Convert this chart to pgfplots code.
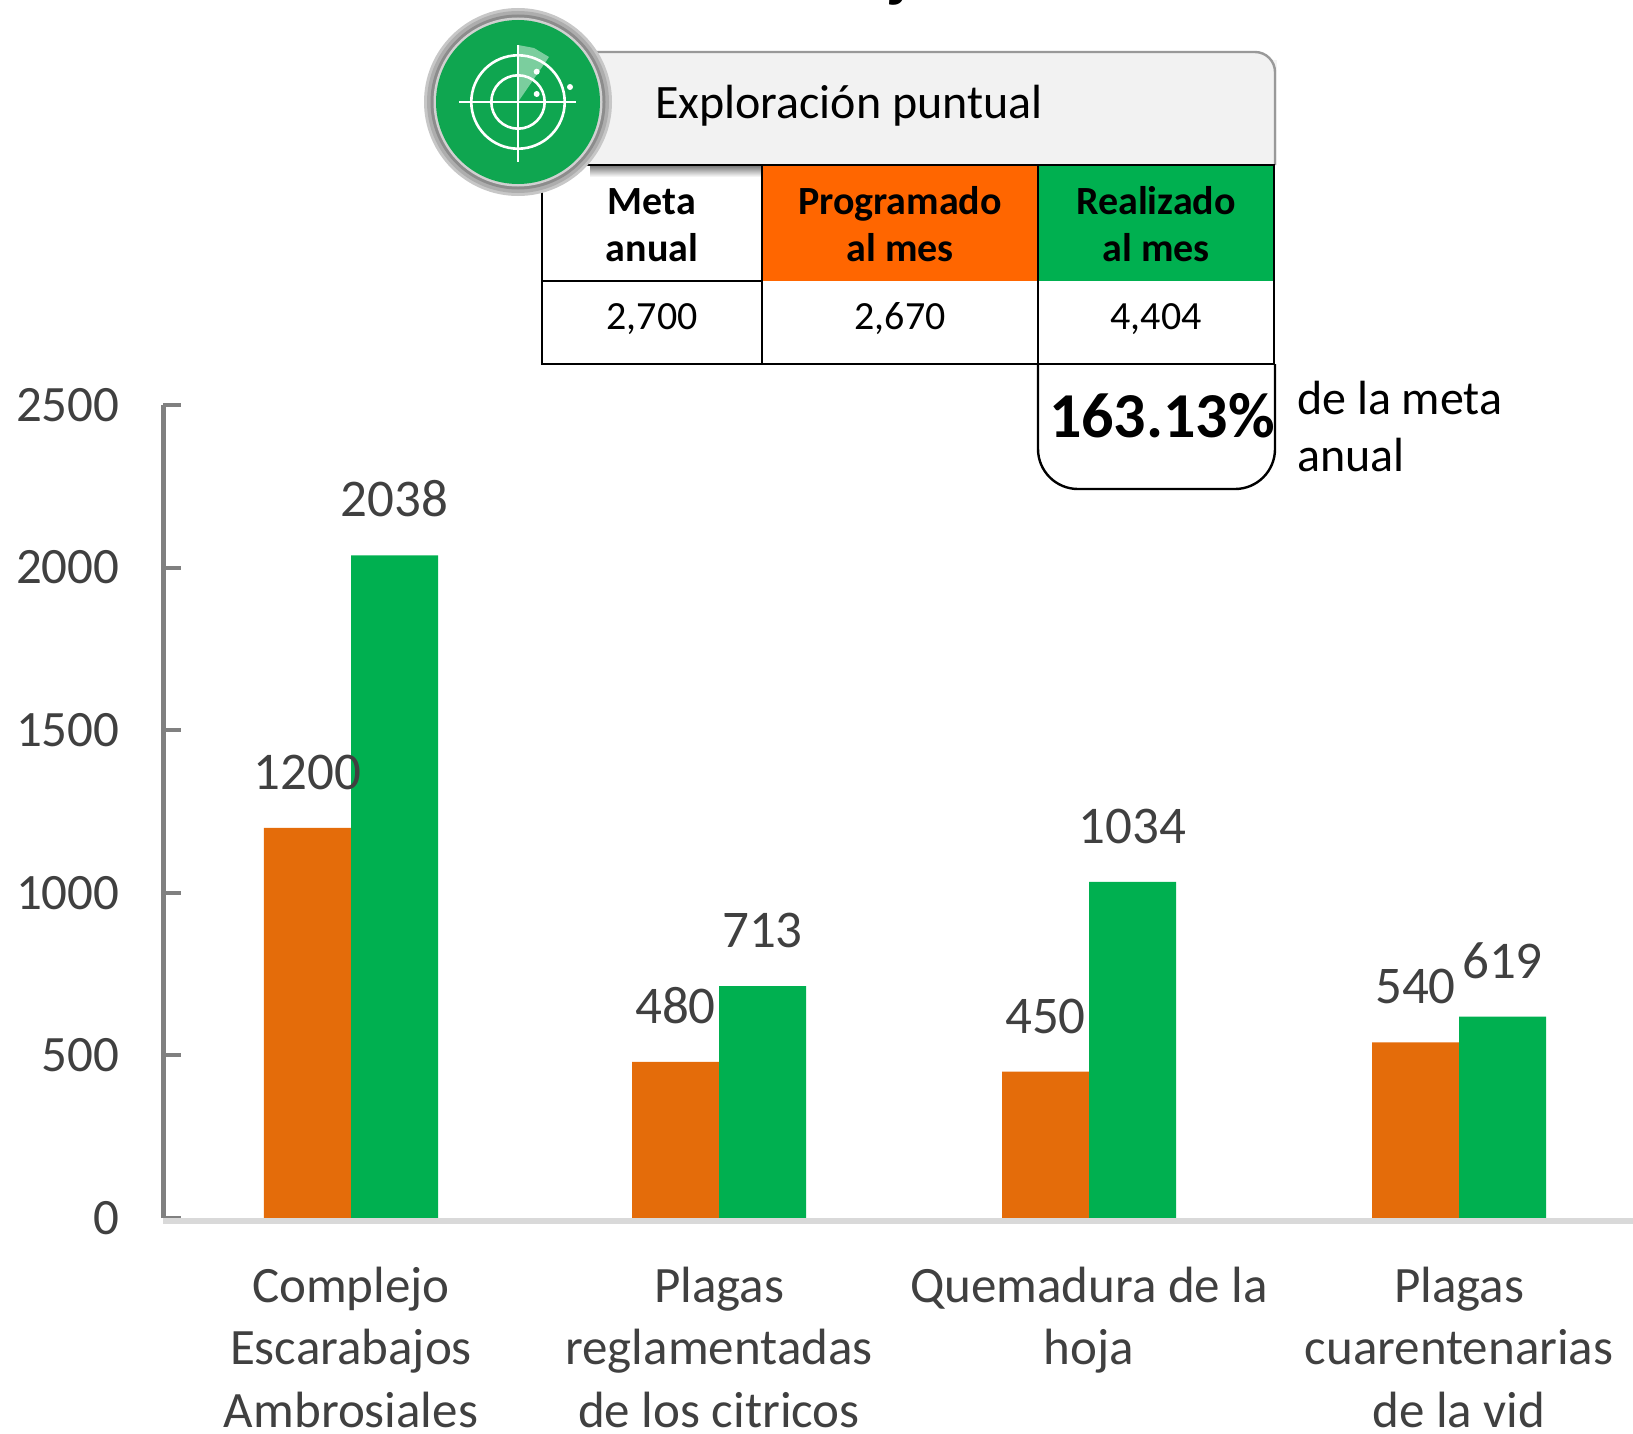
\documentclass[border=0pt]{standalone}
\usepackage{fontspec}
\usepackage{pgfplots}
\pgfplotsset{compat=1.18}
\setmainfont{Carlito}
\definecolor{barO}{HTML}{E46C0A}
\definecolor{barG}{HTML}{00B050}
\definecolor{headO}{HTML}{FF6600}
\definecolor{iconG}{HTML}{0FA650}
\definecolor{txt}{HTML}{404040}
\newcommand{\fs}[1]{\fontsize{#1}{#1}\selectfont}
\begin{document}
\begin{tikzpicture}[x=0.5pt,y=-0.5pt]
\useasboundingbox (0,0) rectangle (1633,1434);
\coordinate (A) at (163.5,1218);
\begin{axis}[
  at={(A)}, anchor=south west,
  scale only axis, width=734.75pt, height=406.5pt,
  xmin=163.5, xmax=1633, ymin=0, ymax=2500,
  axis y line*=left, axis x line*=bottom,
  x axis line style={draw=none},
  y axis line style={draw=black!50!white,line width=2.5pt},
  xtick={351,719,1089,1459},
  xticklabels={Complejo\\Escarabajos\\Ambrosiales,Plagas\\reglamentadas\\de los citricos,Quemadura de la\\hoja,Plagas\\cuarentenarias\\de la vid},
  xticklabel style={align=center,anchor=north,text=txt,font=\fontsize{25.5}{31.2}\selectfont,yshift=-12pt},
  x tick style={draw=none},
  ytick={0,500,...,2500},
  y tick style={draw=black!50!white,line width=2pt},
  tick align=inside,
  major tick length=9pt,
  yticklabel style={text=txt,font=\fs{25.5},xshift=-18.5pt},
  /pgf/number format/assume math mode=true,
  /pgf/number format/1000 sep={},
  ybar, bar width=43.5pt,
  nodes near coords,
  every node near coord/.append style={text=txt,font=\fs{26.5},yshift=15.5pt},
  clip=false,
]
\addplot[bar shift=-21.75pt,draw=none,fill=barO] coordinates {(351,1200) (719,480) (1089,450) (1459,540)};
\addplot[bar shift=21.75pt,draw=none,fill=barG] coordinates {(351,2038) (719,713) (1089,1034) (1459,619)};
\draw[black!15!white,line width=3pt] ([yshift=-1.5pt]axis cs:163.5,0) -- ([yshift=-1.5pt]axis cs:1633,0);
\end{axis}
% cropped title
\node[anchor=base,font=\bfseries\fs{32}] at (900,-5) {j};
% panel
\shade[top color=black!55,bottom color=white] (590,165) rectangle (762,177);
\fill[black!95!white,opacity=.05] (1273,60) rectangle (1277,165);
\draw[black!40,line width=1.2pt,fill=black!5,rounded corners=10pt] (520,165) -- (520,52) -- (1275,52) -- (1275,165);
\node[anchor=base west,font=\fs{24}] at (648,119) {Exploración puntual};
% table
\fill[headO] (762,165) rectangle (1038,281);
\fill[barG] (1038,165) rectangle (1274,281);
\draw[line width=1.4pt] (542,165) -- (1274,165) -- (1274,364) -- (542,364) -- cycle;
\draw[line width=1.2pt] (542,281) -- (762,281);
\draw[line width=1.2pt] (762,165) -- (762,364);
\draw[line width=1.2pt] (1038,165) -- (1038,364);
\node[anchor=base,font=\bfseries\fs{20}] at (652,214) {Meta};
\node[anchor=base,font=\bfseries\fs{20}] at (652,261) {anual};
\node[anchor=base,font=\bfseries\fs{20}] at (900,214) {Programado};
\node[anchor=base,font=\bfseries\fs{20}] at (900,261) {al mes};
\node[anchor=base,font=\bfseries\fs{20}] at (1156,214) {Realizado};
\node[anchor=base,font=\bfseries\fs{20}] at (1156,261) {al mes};
\node[anchor=base,font=\fs{20}] at (652,329) {2,700};
\node[anchor=base,font=\fs{20}] at (900,329) {2,670};
\node[anchor=base,font=\fs{20}] at (1156,329) {4,404};
\draw[line width=1.2pt,rounded corners=20pt] (1038,364) -- (1038,489) -- (1275,489) -- (1275,364);
\node[font=\bfseries\fs{32}] at (1162,416) {163.13\%};
\node[anchor=base west,font=\fs{24}] at (1290,414) {de la meta};
\node[anchor=base west,font=\fs{24}] at (1290,471) {anual};
% icon
\fill[black!22] (518,102) circle (94);
\fill[black!32] (518,102) circle (91);
\fill[black!45] (518,102) circle (87.5);
\fill[black!18] (518,102) circle (84.5);
\fill[iconG] (518,102) circle (82);
\fill[white,opacity=.45] (518,102) -- (518,45) -- (534,48) -- (549,57) -- cycle;
\draw[white,line width=1.3pt] (518,102) circle (46.7);
\draw[white,line width=1.3pt] (518,102) circle (26.7);
\draw[white,line width=1.3pt] (459,102) -- (576,102);
\draw[white,line width=1.3pt] (518,45) -- (518,162);
\fill[white] (536.7,71.7) circle (3);
\fill[white] (570,87) circle (3);
\fill[white] (536.7,94) circle (3);
\end{tikzpicture}
\end{document}
